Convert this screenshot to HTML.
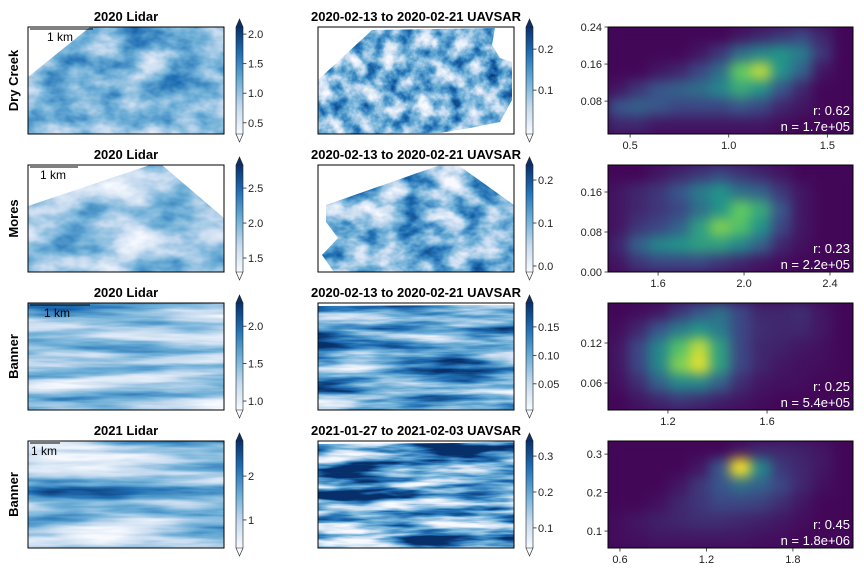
<!DOCTYPE html>
<html><head><meta charset="utf-8">
<style>
body{margin:0;background:#fff;}
svg{display:block;font-family:"Liberation Sans","DejaVu Sans",sans-serif;}
.t{font-size:13px;font-weight:bold;fill:#000;text-anchor:middle;}
.tk{font-size:11px;fill:#222;}
</style></head>
<body>
<svg id="fig" width="864" height="576" viewBox="0 0 864 576" xmlns="http://www.w3.org/2000/svg">
<defs>
<linearGradient id="blues" x1="0" y1="1" x2="0" y2="0">
<stop offset="0" stop-color="#f7fbff"/><stop offset="0.25" stop-color="#c6dbef"/><stop offset="0.5" stop-color="#6baed6"/><stop offset="0.75" stop-color="#2171b5"/><stop offset="1" stop-color="#08306b"/>
</linearGradient>
<filter id="hblur" x="-5%" y="-5%" width="110%" height="110%" color-interpolation-filters="sRGB"><feGaussianBlur stdDeviation="6"/></filter>
</defs>
</svg>
<script>
const rowNames=["Dry Creek","Mores","Banner","Banner"];
const lidarTitles=["2020 Lidar","2020 Lidar","2020 Lidar","2021 Lidar"];
const sarTitles=["2020-02-13 to 2020-02-21 UAVSAR","2020-02-13 to 2020-02-21 UAVSAR","2020-02-13 to 2020-02-21 UAVSAR","2021-01-27 to 2021-02-03 UAVSAR"];
const lidarRange=[[0.31,2.12],[1.3,2.83],[0.88,2.31],[0.36,2.8]];
const lidarTicks=[[0.5,1.0,1.5,2.0],[1.5,2.0,2.5],[1.0,1.5,2.0],[1,2]];
const lidarTickLabels=[["0.5","1.0","1.5","2.0"],["1.5","2.0","2.5"],["1.0","1.5","2.0"],["1","2"]];
const sarRange=[[-0.007,0.254],[-0.014,0.235],[0.004,0.192],[0.044,0.342]];
const sarTicks=[[0.1,0.2],[0.0,0.1,0.2],[0.05,0.10,0.15],[0.1,0.2,0.3]];
const sarTickLabels=[["0.1","0.2"],["0.0","0.1","0.2"],["0.05","0.10","0.15"],["0.1","0.2","0.3"]];
const histX=[[0.388,1.63],[1.367,2.507],[0.958,1.947],[0.517,2.217]];
const histY=[[0.009,0.24],[0.0,0.214],[0.0195,0.18],[0.056,0.334]];
const histXTicks=[[0.5,1.0,1.5],[1.6,2.0,2.4],[1.2,1.6],[0.6,1.2,1.8]];
const histXTickLabels=[["0.5","1.0","1.5"],["1.6","2.0","2.4"],["1.2","1.6"],["0.6","1.2","1.8"]];
const histYTicks=[[0.08,0.16,0.24],[0.0,0.08,0.16],[0.06,0.12],[0.1,0.2,0.3]];
const histYTickLabels=[["0.08","0.16","0.24"],["0.00","0.08","0.16"],["0.06","0.12"],["0.1","0.2","0.3"]];
const rVals=["r: 0.62","r: 0.23","r: 0.25","r: 0.45"];
const nVals=["n = 1.7e+05","n = 2.2e+05","n = 5.4e+05","n = 1.8e+06"];
const dens0=[
[0,0,0,0,0,0,.05,.1,.15,.2,.1,0],
[0,0,0,0,.05,.15,.35,.45,.5,.4,.15,0],
[0,0,.05,.1,.2,.35,.75,.9,.5,.3,.05,0],
[.05,.15,.25,.3,.35,.45,.6,.5,.25,.1,0,0],
[.25,.3,.25,.2,.2,.2,.25,.2,.1,.05,0,0],
[.1,.1,.05,.05,.05,.05,.05,.05,.02,0,0,0]];
const dens1=[
[0,0,.05,.1,.15,.2,.15,.1,.05,0,0,0],
[.05,.1,.15,.25,.4,.5,.35,.3,.15,.05,0,0],
[.05,.1,.15,.2,.35,.5,.75,.6,.25,.05,0,0],
[.05,.15,.2,.3,.55,.8,.7,.5,.2,.05,0,0],
[.1,.3,.45,.5,.55,.55,.45,.3,.1,.03,0,0],
[.05,.15,.2,.2,.2,.15,.1,.05,.02,0,0,0]];
const dens2=[
[0,.02,.05,.15,.25,.35,.2,.1,.1,.12,.05,0],
[.02,.1,.25,.4,.5,.4,.2,.12,.1,.1,.05,0],
[.05,.2,.45,.7,.9,.55,.2,.1,.08,.05,.03,0],
[.05,.2,.45,.8,.95,.55,.2,.1,.05,.03,.02,0],
[.03,.12,.3,.45,.45,.3,.12,.05,.03,.02,0,0],
[0,.05,.1,.15,.12,.08,.05,.02,0,0,0,0]];
const dens3=[
[0,0,0,0,0,0,.05,.1,.1,.08,.05,0],
[0,0,0,0,.05,.25,1,.45,.15,.1,.05,0],
[0,0,0,.05,.15,.25,.35,.3,.2,.1,.03,0],
[0,0,.03,.1,.15,.2,.2,.18,.12,.05,0,0],
[.02,.05,.08,.1,.12,.12,.1,.08,.05,.02,0,0],
[.02,.03,.05,.05,.05,.05,.05,.03,.02,0,0,0]];
const densities=[dens0,dens1,dens2,dens3];

const NS="http://www.w3.org/2000/svg";
const fig=document.getElementById('fig');
const defs=fig.querySelector('defs');
function mk(tag,attrs,parent){const e=document.createElementNS(NS,tag);for(const k in attrs)e.setAttribute(k,attrs[k]);(parent||fig).appendChild(e);return e;}
const rowTop=[27,165,303,441], H=107;
const mapX=[28,318], MW=196, cbX=[236,526], CBW=7;
const HX=608, HW=245;
const blR="0.97 0.78 0.42 0.13 0.03", blG="0.98 0.86 0.68 0.44 0.19", blB="1 0.94 0.84 0.71 0.42";
const tex=[
 [[0.025,0.04,1.0,-0.05,3],[0.06,0.06,1.4,-0.25,7]],
 [[0.02,0.035,1.0,-0.15,11],[0.03,0.045,1.5,-0.3,5]],
 [[0.006,0.07,1.2,-0.25,21],[0.008,0.08,1.8,-0.4,9]],
 [[0.006,0.06,1.3,-0.25,13],[0.01,0.09,2.4,-0.65,17]]];
const clips=[
 ["28,77 90,27 224,27 224,134 28,134","318,80 372,30 495,28 492,45 500,58 512,62 512,100 500,122 470,128 440,133 318,134"],
 ["28,206 150,165 162,165 224,218 224,272 28,272","326,205 440,165 458,165 514,205 514,272 334,272 322,255 338,238 326,222"],
 ["28,303 224,303 224,410 28,410","318,306 514,305 514,410 318,410"],
 ["28,441 224,441 224,548 28,548","318,444 460,443 514,441 514,548 318,548"]];
function viridis(t){const s=[[68,1,84],[59,82,139],[33,145,140],[94,201,98],[253,231,37]];t=Math.max(0,Math.min(1,t))*4;const i=Math.min(3,Math.floor(t)),f=t-i;const c=s[i].map((v,k)=>Math.round(v+(s[i+1][k]-v)*f));return `rgb(${c[0]},${c[1]},${c[2]})`;}

for(let r=0;r<4;r++){
 const y0=rowTop[r];
 const rl=mk('text',{x:18,y:y0+H/2,class:'t','font-size':'11',transform:`rotate(-90 18 ${y0+H/2})`});
 
 
 rl.textContent=rowNames[r];
 for(let c=0;c<2;c++){
  const x0=mapX[c];
  const p=tex[r][c];
  const fid=`f${r}${c}`, cid=`c${r}${c}`;
  const f=mk('filter',{id:fid,x:0,y:0,width:'100%',height:'100%','color-interpolation-filters':'sRGB'},defs);
  mk('feTurbulence',{type:'fractalNoise',baseFrequency:`${p[0]} ${p[1]}`,numOctaves:4,seed:p[4]},f);
  mk('feColorMatrix',{type:'matrix',values:`${p[2]} 0 0 0 ${p[3]}  ${p[2]} 0 0 0 ${p[3]}  ${p[2]} 0 0 0 ${p[3]}  0 0 0 0 1`},f);
  const ct=mk('feComponentTransfer',{},f);
  mk('feFuncR',{type:'table',tableValues:blR},ct);
  mk('feFuncG',{type:'table',tableValues:blG},ct);
  mk('feFuncB',{type:'table',tableValues:blB},ct);
  const cp=mk('clipPath',{id:cid},defs);
  mk('polygon',{points:clips[r][c]},cp);
  const g=mk('g',{});
  
  
  mk('rect',{x:x0,y:y0,width:MW,height:H,fill:'#fff'},g);
  mk('rect',{x:x0,y:y0,width:MW,height:H,filter:`url(#${fid})`,'clip-path':`url(#${cid})`},g);
  mk('rect',{x:x0,y:y0,width:MW,height:H,fill:'none',stroke:'#000','stroke-width':1},g);
  const tt=mk('text',{x:x0+MW/2,y:y0-6,class:'t'});
  
  
  tt.textContent=c?sarTitles[r]:lidarTitles[r];
  const cx=cbX[c], rng=c?sarRange[r]:lidarRange[r], ticks=c?sarTicks[r]:lidarTicks[r], tl=c?sarTickLabels[r]:lidarTickLabels[r];
  const cb=mk('g',{});
  
  
  mk('rect',{x:cx,y:y0,width:CBW,height:H,fill:'url(#blues)'},cb);
  mk('polygon',{points:`${cx},${y0} ${cx+CBW/2},${y0-8} ${cx+CBW},${y0}`,fill:'#08306b',stroke:'#222','stroke-width':0.6},cb);
  mk('polygon',{points:`${cx},${y0+H} ${cx+CBW/2},${y0+H+8} ${cx+CBW},${y0+H}`,fill:'#f7fbff',stroke:'#222','stroke-width':0.6},cb);
  mk('line',{x1:cx,y1:y0,x2:cx,y2:y0+H,stroke:'#222','stroke-width':0.6},cb);
  mk('line',{x1:cx+CBW,y1:y0,x2:cx+CBW,y2:y0+H,stroke:'#222','stroke-width':0.6},cb);
  const cs=v=>y0+H-(v-rng[0])/(rng[1]-rng[0])*H;
  ticks.forEach((v,i)=>{const yy=cs(v);
   mk('line',{x1:cx+CBW,y1:yy,x2:cx+CBW+3.5,y2:yy,stroke:'#222','stroke-width':0.8},cb);
   const tx=mk('text',{x:cx+CBW+5,y:yy+4,class:'tk'},cb);
   
   
   tx.textContent=tl[i];});
 }
 const sbLen=[63,48,60,30][r], sbTx=[47,40,44,31][r];
 const sb=mk('g',{});
 
 
 mk('line',{x1:30,y1:y0+2,x2:30+sbLen,y2:y0+2,stroke:'#000','stroke-width':1},sb);
 const st=mk('text',{x:sbTx,y:y0+14,'font-size':'12',fill:'#000'},sb);
 st.textContent='1 km';
 const hx=histX[r], hy=histY[r], d=densities[r];
 const xs=v=>HX+(v-hx[0])/(hx[1]-hx[0])*HW;
 const ys=v=>y0+H-(v-hy[0])/(hy[1]-hy[0])*H;
 const hid=`h${r}`;
 const hc=mk('clipPath',{id:hid},defs);
 mk('rect',{x:HX,y:y0,width:HW,height:H},hc);
 const hg=mk('g',{'clip-path':`url(#${hid})`});
 
 
 mk('rect',{x:HX,y:y0,width:HW,height:H,fill:viridis(0.02)},hg);
 const cg=mk('g',{filter:'url(#hblur)'},hg);
 const nr=d.length, nc=d[0].length;
 const bx=i=>hx[0]+(hx[1]-hx[0])*i/nc, by=j=>hy[1]-(hy[1]-hy[0])*j/nr;
 for(let j=0;j<nr;j++)for(let i=0;i<nc;i++){
  const x1=xs(bx(i)),x2=xs(bx(i+1)),y1=ys(by(j)),y2=ys(by(j+1));
  const cell=mk('rect',{x:x1-0.3,y:y1-0.3,width:x2-x1+0.6,height:y2-y1+0.6,fill:viridis(0.02+d[j][i]*0.98)},cg);
  
  
 }
 mk('rect',{x:HX,y:y0,width:HW,height:H,fill:'none',stroke:'#000','stroke-width':1});
 histXTicks[r].forEach((v,i)=>{const xx=xs(v);
  mk('line',{x1:xx,y1:y0+H,x2:xx,y2:y0+H+3.5,stroke:'#222','stroke-width':0.8});
  const tx=mk('text',{x:xx,y:y0+H+15,class:'tk','text-anchor':'middle'});
  
  
  tx.textContent=histXTickLabels[r][i];});
 histYTicks[r].forEach((v,i)=>{const yy=ys(v);
  mk('line',{x1:HX,y1:yy,x2:HX-3.5,y2:yy,stroke:'#222','stroke-width':0.8});
  const tx=mk('text',{x:HX-6,y:yy+4,class:'tk','text-anchor':'end'});
  
  
  tx.textContent=histYTickLabels[r][i];});
 const rt=mk('text',{x:HX+HW-3,y:y0+H-19,'font-size':'13',fill:'#fff','text-anchor':'end'});
 
 
 rt.textContent=rVals[r];
 const nt=mk('text',{x:HX+HW-3,y:y0+H-3,'font-size':'13',fill:'#fff','text-anchor':'end'});
 
 
 nt.textContent=nVals[r];
}
</script>
</body></html>
